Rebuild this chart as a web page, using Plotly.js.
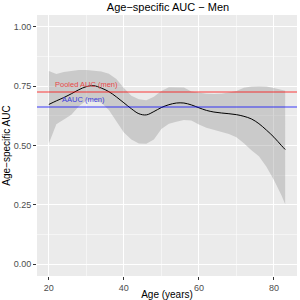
<!DOCTYPE html>
<html><head><meta charset="utf-8">
<script src="https://cdn.plot.ly/plotly-3.0.1.min.js"></script>
<style>html,body{margin:0;padding:0;background:#fff}#plot{width:300px;height:300px}</style>
</head><body><div id="plot"></div>
<script>
const ages = [20,22,24,26,28,30,32,34,36,38,40,42,44,46,48,50,52,54,56,58,60,62,64,66,68,70,72,74,76,78,80,82,83];
const auc = [0.673,0.688,0.702,0.718,0.735,0.748,0.752,0.742,0.727,0.705,0.680,0.655,0.634,0.629,0.643,0.660,0.672,0.679,0.679,0.671,0.659,0.648,0.641,0.637,0.634,0.630,0.623,0.612,0.592,0.565,0.535,0.500,0.483];
const upper = [0.814,0.801,0.810,0.815,0.818,0.818,0.816,0.812,0.802,0.780,0.742,0.710,0.695,0.691,0.705,0.730,0.745,0.746,0.744,0.728,0.722,0.718,0.717,0.718,0.723,0.730,0.743,0.749,0.750,0.749,0.742,0.735,0.731];
const lower = [0.508,0.590,0.610,0.630,0.665,0.690,0.692,0.680,0.650,0.600,0.555,0.525,0.508,0.507,0.525,0.570,0.592,0.600,0.607,0.605,0.588,0.575,0.567,0.558,0.548,0.535,0.510,0.480,0.455,0.410,0.355,0.290,0.252];
const pooledAUC = 0.725;
const aauc = 0.662;
const xTicks = [20,40,60,80];
const yTicks = [0,0.25,0.5,0.75,1];
const yTickLabels = ["0.00","0.25","0.50","0.75","1.00"];

const font = "Liberation Sans, Arial, sans-serif";
const traces = [
  {x: ages, y: upper, mode:'lines', line:{width:0}, hoverinfo:'skip', showlegend:false},
  {x: ages, y: lower, mode:'lines', line:{width:0}, fill:'tonexty', fillcolor:'rgba(153,153,153,0.4)', showlegend:false},
  {x: ages, y: auc, mode:'lines', line:{color:'#000', width:1, shape:'spline'}, showlegend:false}
];
const layout = {
  width:300, height:300,
  margin:{l:37, r:3, t:15, b:24},
  paper_bgcolor:'#fff', plot_bgcolor:'#EBEBEB',
  font:{family:font},
  title:{text:'Age\u2212specific AUC \u2212 Men', font:{size:11, color:'#000', family:font, weight:'normal'}, x:0.56, xanchor:'center', y:0.99, yanchor:'top'},
  xaxis:{range:[16.85,86.15], tickvals:xTicks, ticktext:xTicks.map(String), ticks:'outside', ticklen:3, tickcolor:'#333', tickwidth:1,
    tickfont:{size:9, color:'#4D4D4D'}, showgrid:true, gridcolor:'#fff', gridwidth:1, zeroline:false, showline:false,
    minor:{tickvals:[30,50,70], showgrid:true, gridcolor:'#fff', gridwidth:0.5, ticks:''},
    title:{text:'Age (years)', font:{size:10, color:'#000'}, standoff:0}},
  yaxis:{range:[-0.05,1.05], tickvals:yTicks, ticktext:yTickLabels, ticks:'outside', ticklen:3, tickcolor:'#333', tickwidth:1,
    tickfont:{size:9, color:'#4D4D4D'}, showgrid:true, gridcolor:'#fff', gridwidth:1, zeroline:false, showline:false,
    minor:{tickvals:[0.125,0.375,0.625,0.875], showgrid:true, gridcolor:'#fff', gridwidth:0.5, ticks:''},
    title:{text:'Age\u2212specific AUC', font:{size:10, color:'#000'}, standoff:1}},
  shapes:[
    {type:'line', xref:'paper', x0:0, x1:1, yref:'y', y0:pooledAUC, y1:pooledAUC, line:{color:'rgba(255,0,0,0.5)', width:1.5}},
    {type:'line', xref:'paper', x0:0, x1:1, yref:'y', y0:aauc, y1:aauc, line:{color:'rgba(0,0,255,0.5)', width:1.5}}
  ],
  annotations:[
    {x:30, y:0.758, text:'Pooled AUC (men)', showarrow:false, font:{size:7.5, color:'#E84848'}, xanchor:'center', yanchor:'middle'},
    {x:29.2, y:0.694, text:'AAUC (men)', showarrow:false, font:{size:7.5, color:'#3C3CDC'}, xanchor:'center', yanchor:'middle'}
  ]
};
Plotly.newPlot('plot', traces, layout, {displayModeBar:false, staticPlot:true});
</script></body></html>
